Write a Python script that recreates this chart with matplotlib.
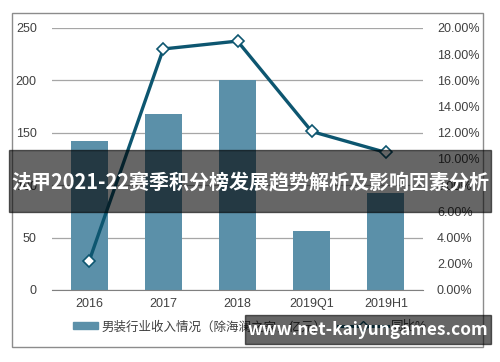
import matplotlib
matplotlib.use("Agg")
import matplotlib.pyplot as plt
from matplotlib.patches import Rectangle
from matplotlib.lines import Line2D
from matplotlib.ticker import FuncFormatter

plt.rcParams["font.family"] = ["Liberation Sans", "Noto Sans CJK SC", "DejaVu Sans"]

categories = ["2016", "2017", "2018", "2019Q1", "2019H1"]
revenue = [142, 168, 200, 56, 93]
yoy = [0.022, 0.184, 0.190, 0.121, 0.105]
bar_label = "男装行业收入情况（除海澜之家，亿元）"
line_label = "同比%"
banner_title = "法甲2021-22赛季积分榜发展趋势解析及影响因素分析"
watermark = "www.net-kaiyungames.com"

bar_color = "#5b90a9"
line_color = "#0d5670"
text_color = "#404040"
grid_color = "#a6a6a6"

fig = plt.figure(figsize=(5, 3.62), dpi=100)

# outer chart frame
fig.patches.append(Rectangle((12 / 500, 1 - 347 / 362), 471 / 500, 334 / 362,
                             transform=fig.transFigure, fill=False,
                             edgecolor="#8c8c8c", linewidth=1.0, zorder=0))

ax = fig.add_axes([52 / 500, 1 - 290 / 362, 371 / 500, 262 / 362])
x = list(range(len(categories)))
ax.bar(x, revenue, width=0.5, color=bar_color, zorder=2)
ax.set_xlim(-0.5, len(categories) - 0.5)
ax.set_ylim(0, 250)
ax.set_yticks([0, 50, 100, 150, 200, 250])
ax.set_xticks(x)
ax.set_xticklabels(categories)
ax.yaxis.grid(True, color=grid_color, linewidth=0.9, zorder=0)
ax.set_axisbelow(True)
for s in ["top", "left", "right"]:
    ax.spines[s].set_visible(False)
ax.spines["bottom"].set_color("#808080")
ax.tick_params(axis="both", length=0, colors=text_color, labelsize=9)
ax.tick_params(axis="x", pad=6)
ax.tick_params(axis="y", pad=11)

ax2 = ax.twinx()
ax2.plot(x, yoy, color=line_color, linewidth=2.4, marker="D", markersize=6,
         markerfacecolor="white", markeredgecolor=line_color, markeredgewidth=1.2,
         zorder=3)
ax2.set_ylim(0, 0.2)
ax2.set_yticks([i * 0.02 for i in range(11)])
ax2.yaxis.set_major_formatter(FuncFormatter(lambda v, p: f"{v * 100:.2f}%"))
for s in ["top", "left", "right", "bottom"]:
    ax2.spines[s].set_visible(False)
ax2.tick_params(axis="y", length=0, colors=text_color, labelsize=9, pad=10)

# legend: two pieces so the handles can have different lengths
bar_handle = Rectangle((0, 0), 1, 1, color=bar_color)
line_handle = Line2D([0], [0], color=line_color, linewidth=2.2, marker="D",
                     markersize=5, markerfacecolor="white",
                     markeredgecolor=line_color)
legend_y = 1 - 327 / 362
fig.legend([bar_handle], [bar_label], loc="center left",
           bbox_to_anchor=(73 / 500, legend_y), frameon=False, fontsize=9,
           borderpad=0, borderaxespad=0, handlelength=2.0, handleheight=0.45,
           handletextpad=0.3, labelcolor=text_color)
fig.legend([line_handle], [line_label], loc="center left",
           bbox_to_anchor=(338 / 500, legend_y), frameon=False, fontsize=9,
           borderpad=0, borderaxespad=0, handlelength=4.0, handletextpad=0.2,
           labelcolor=text_color)

# overlay banner and watermark
fig.patches.append(Rectangle((9 / 500, 1 - 212 / 362), 482 / 500, 62 / 362,
                             transform=fig.transFigure, color="black",
                             alpha=0.6, zorder=10))
fig.text(0.5, 1 - 183 / 362, banner_title, ha="center", va="center",
         color="white", fontsize=14.4, fontweight="bold",
         family=["Noto Sans CJK SC", "DejaVu Sans"], zorder=11)
fig.patches.append(Rectangle((245 / 500, 1 - 344 / 362), 246 / 500, 29 / 362,
                             transform=fig.transFigure, color="black",
                             alpha=0.6, zorder=10))
fig.text(368 / 500, 1 - 330 / 362, watermark, ha="center", va="center",
         color="white", fontsize=12.4, fontweight="bold",
         family=["Noto Sans CJK SC", "DejaVu Sans"], zorder=11)

fig.savefig("out.png", dpi=100)
